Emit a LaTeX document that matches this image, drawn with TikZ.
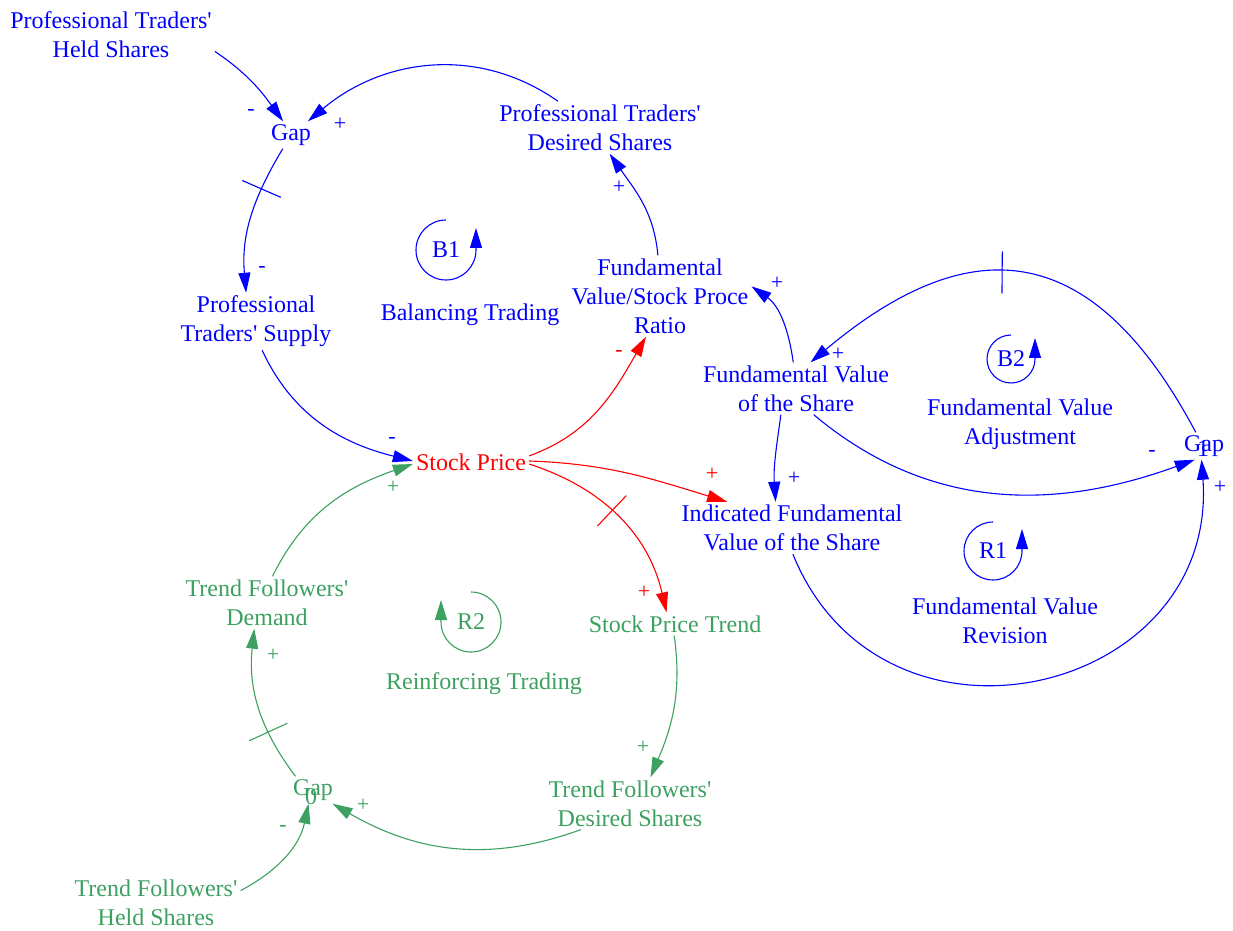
\documentclass[tikz,border=0pt]{standalone}
\usepackage{fontspec}
\setmainfont{Liberation Serif}
\usetikzlibrary{arrows.meta,decorations.markings}
\definecolor{vblue}{RGB}{0,0,255}
\definecolor{vred}{RGB}{255,0,0}
\definecolor{vgreen}{RGB}{60,160,96}
\newcommand\ap{\textquotesingle}
\begin{document}
\begin{tikzpicture}[x=1pt,y=1pt,
  var/.style={font=\fontsize{24}{29}\selectfont, align=center, inner sep=3pt},
  sgn/.style={font=\fontsize{22}{26}\selectfont, inner sep=0pt},
  link/.style={line width=1.1pt, -{Triangle[length=20pt,width=12pt]}},
  delaymk/.style={postaction={decorate,decoration={markings,
      mark=at position #1 with {\draw[line width=1.1pt, arrows=-] (0,-21pt) -- (0,21pt);}}}},
  loopsym/.style={line width=1.1pt, -{Triangle[length=20pt,width=12pt]}},
]
\useasboundingbox (0,0) rectangle (1233,930);

% variables
\node[var, vblue] (pths) at (111,895) {Professional Traders\ap\\Held Shares};
\node[var, vblue] (gapP) at (291,795) {Gap};
\node[var, vblue] (pds) at (600,802.5) {Professional Traders\ap\\Desired Shares};
\node[var, vblue] (b1) at (446,680) {B1};
\node[var, vblue] (balT) at (470,615) {Balancing Trading};
\node[var, vblue] (ratio) at (660,634) {Fundamental\\Value/Stock Proce\\Ratio};
\node[var, vblue] (pts) at (256,608.5) {Professional\\Traders\ap{} Supply};
\node[var, vred] (sp) at (471,468) {Stock Price};
\node[var, vblue] (fvs) at (796,541.5) {Fundamental Value\\of the Share};
\node[var, vblue] (b2) at (1011,571) {B2};
\node[var, vblue] (fva) at (1020,505.5) {Fundamental Value\\Adjustment};
\node[var, vblue] (gapF) at (1204,484) {Gap};
\node[var, vblue] (o1) at (1203,481) {1};
\node[var, vblue] (ifv) at (792,402) {Indicated Fundamental\\Value of the Share};
\node[var, vblue] (r1) at (993,379) {R1};
\node[var, vblue] (fvr) at (1005,309.5) {Fundamental Value\\Revision};
\node[var, vgreen] (tfd) at (267,327.5) {Trend Followers\ap\\Demand};
\node[var, vgreen] (r2) at (471,308) {R2};
\node[var, vgreen] (spt) at (675,306) {Stock Price Trend};
\node[var, vgreen] (rt) at (484,246) {Reinforcing Trading};
\node[var, vgreen] (tfds) at (630,126.5) {Trend Followers\ap\\Desired Shares};
\node[var, vgreen] (gapT) at (313,140) {Gap};
\node[var, vgreen] (o0) at (311,133) {0};
\node[var, vgreen] (tfhs) at (156,27.5) {Trend Followers\ap\\Held Shares};

% loop symbols
\draw[loopsym, vblue] ([shift={(90:30)}]b1.center) arc[start angle=90, end angle=360, radius=30] -- ++(0,22);
\draw[loopsym, vblue] ([shift={(90:24)}]b2.center) arc[start angle=90, end angle=360, radius=24] -- ++(0,21);
\draw[loopsym, vblue] ([shift={(90:29)}]r1.center) arc[start angle=90, end angle=360, radius=29] -- ++(0,22);
\draw[loopsym, vgreen] ([shift={(90:30)}]r2.center) arc[start angle=90, end angle=-180, radius=30] -- ++(0,22);

% causal links
\draw[link, vblue] (pths.-9) to[out=-34,in=126] (gapP.120);
\draw[link, vblue] (pds.148) to[out=145,in=40] (gapP.39);
\draw[link, vblue, delaymk=0.3] (gapP.-121) to[out=-121,in=95] (pts.109);
\draw[link, vblue] (pts.-78) to[out=-65,in=166] (sp.179);
\draw[link, vred] (sp.6) to[out=20,in=240] (ratio.251);
\draw[link, vblue] (ratio.93) to[out=95,in=-55] (pds.-70);
\draw[link, vblue] (fvs.96) to[out=98,in=-35] (ratio.6);
\draw[link, vblue] (fvs.-56) to[out=-40,in=200] (gapF.236);
\draw[link, vblue, delaymk=0.55] (gapF.121) to[out=118,in=40,looseness=1.4] (fvs.61);
\draw[link, vblue] (fvs.240) to[out=-98,in=94] (ifv.122);
\draw[link, vred] (sp.1) to[out=-2,in=163] (ifv.158);
\draw[link, vblue] (ifv.-88) to[out=-68,in=-86,looseness=1.45] (gapF.260);
\draw[link, vred, delaymk=0.45] (sp.-2) to[out=-18,in=103] (spt.126);
\draw[link, vgreen] (spt.-94) to[out=-82,in=67] (tfds.52);
\draw[link, vgreen] (tfds.208) to[out=200,in=-30] (gapT.-35);
\draw[link, vgreen] (tfhs.8) to[out=28,in=-102] (gapT.252);
\draw[link, vgreen, delaymk=0.33] (gapT.142) to[out=127,in=-96] (tfd.244.6);
\draw[link, vgreen] (tfd.78) to[out=64,in=199] (sp.182);

% polarity signs
\node[sgn, vblue] (s1) at (251,817) {-};
\node[sgn, vblue] (s2) at (340,806) {+};
\node[sgn, vblue] (s3) at (262,660) {-};
\node[sgn, vblue] (s4) at (392,490) {-};
\node[sgn, vred] (s5) at (619,577) {-};
\node[sgn, vblue] (s6) at (619,743) {+};
\node[sgn, vblue] (s7) at (777,647) {+};
\node[sgn, vblue] (s8) at (1152,477) {-};
\node[sgn, vblue] (s9) at (838,576) {+};
\node[sgn, vblue] (s10) at (794,452) {+};
\node[sgn, vred] (s11) at (712,456) {+};
\node[sgn, vblue] (s12) at (1220,443) {+};
\node[sgn, vred] (s13) at (644,338) {+};
\node[sgn, vgreen] (s14) at (643,183) {+};
\node[sgn, vgreen] (s15) at (363,125) {+};
\node[sgn, vgreen] (s16) at (283,102) {-};
\node[sgn, vgreen] (s17) at (273,275) {+};
\node[sgn, vgreen] (s18) at (393,443) {+};
\end{tikzpicture}
\end{document}
